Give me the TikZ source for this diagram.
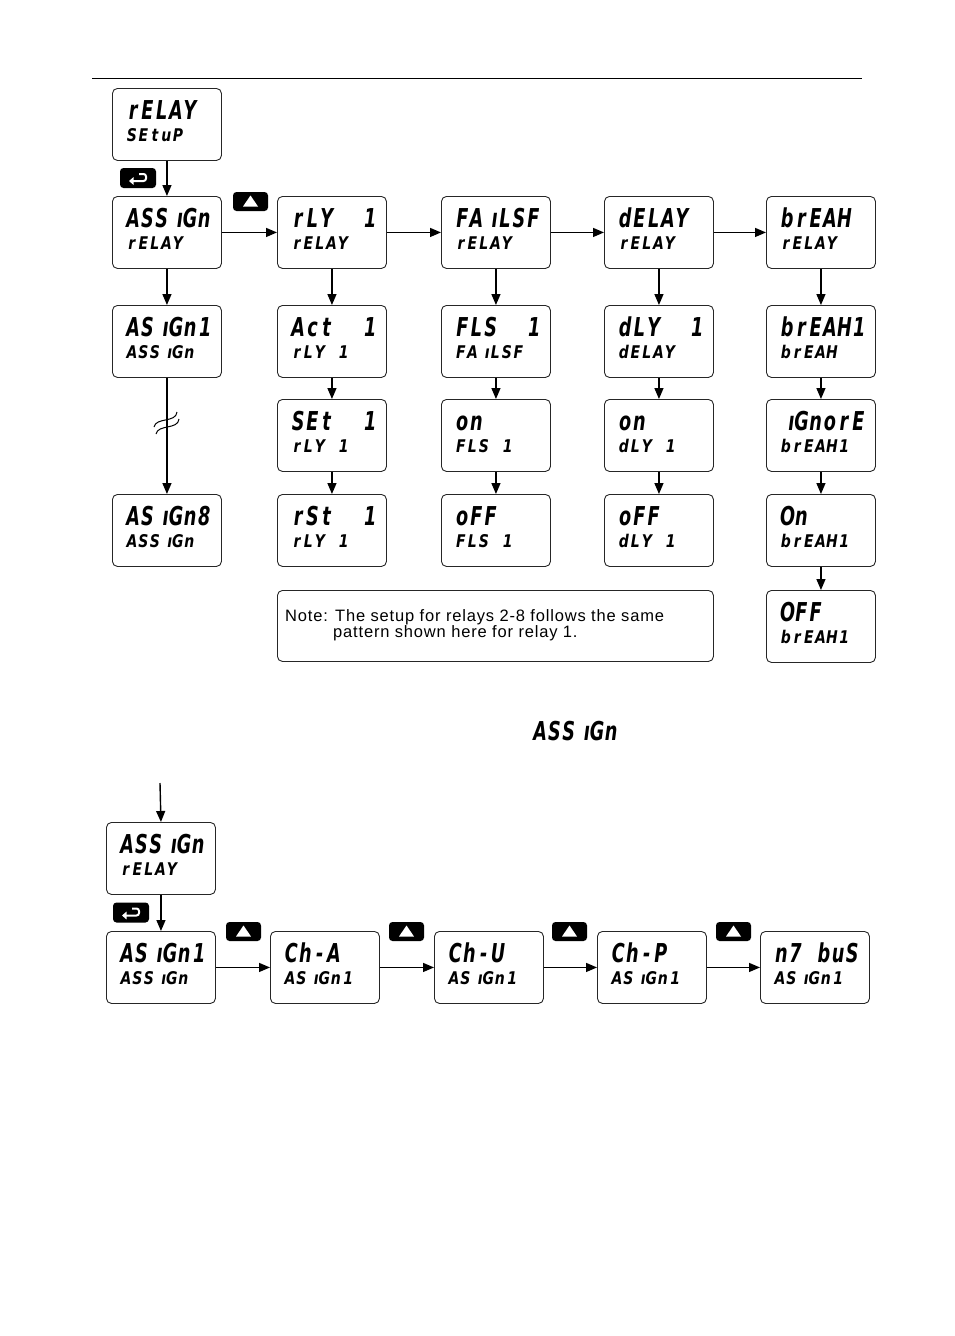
\documentclass[tikz,border=0pt]{standalone}
\usepackage{fontspec}
\setmainfont{Liberation Sans}
\newfontfamily\lcdfont{DejaVu Sans}[FakeStretch=0.68]
\newfontfamily\lcdfontb{DejaVu Sans}[FakeStretch=0.8]
\newfontfamily\notefont{Liberation Sans}[LetterSpace=5]
\usetikzlibrary{arrows.meta}

\newlength\lcdw
\def\lcdline#1{\lcdloop#1\relax}
\def\lcdloop#1{\ifx#1\relax\else\lcdcell{#1}\expandafter\lcdloop\fi}
\def\lcdcell#1{\ifx*#1\hbox to\lcdw{\hfil}\else\ifx1#1\hbox to\lcdw{\hfil#1}\else\ifx ı#1\hbox to\lcdw{\hfil#1}\else\hbox to\lcdw{\hfil#1\hfil}\fi\fi\fi}
\newcommand\LA[1]{{\lcdfont\bfseries\itshape\fontsize{26}{26}\selectfont\lcdw=14.2pt\lcdline{#1}}}
\newcommand\LB[1]{{\lcdfontb\bfseries\itshape\fontsize{17.5}{17.5}\selectfont\lcdw=11.5pt\lcdline{#1}}}

\tikzset{
  dbox/.style={draw=black!85, line width=0.9pt, rounded corners=5pt, minimum width=109pt, minimum height=72pt, inner sep=0pt, anchor=north west},
  txt/.style={anchor=base west, inner sep=0pt},
  arr/.style={line width=1.4pt, -{Triangle[length=11pt,width=9pt]}},
  keybox/.style={fill=black, rounded corners=3.5pt, minimum width=36pt, minimum height=20pt, inner sep=0pt},
  keysym/.style={draw=white, line width=2pt, rounded corners=2.5pt, -{Triangle[length=4.5pt,width=7.5pt]}},
}

% name, x, y (top-left), line1, line2
\newcommand\disp[5]{%
  \node[dbox] (#1) at (#2,#3) {};
  \node[txt] (#1a) at ([shift={(14,31)}]#1.north west) {\LA{#4}};
  \node[txt] (#1b) at ([shift={(14,53)}]#1.north west) {\LB{#5}};
}
\newcommand\enterkey[3]{%
  \node[keybox] (#1) at (#2,#3) {};
  \draw[keysym] ([shift={(1,-4)}]#1.center) -- ([shift={(8,-4)}]#1.center) -- ([shift={(8,3)}]#1.center) -- ([shift={(-9,3)}]#1.center);
}
\newcommand\upkey[3]{%
  \node[keybox, minimum width=35pt, minimum height=19pt] (#1) at (#2,#3) {};
  \fill[white] ([shift={(-7.5,5)}]#1.center) -- ([shift={(7.5,5)}]#1.center) -- ([shift={(0,-6)}]#1.center) -- cycle;
}

\begin{document}
\begin{tikzpicture}[x=1pt,y=-1pt]
\useasboundingbox (0,0) rectangle (954,1336);
\coordinate (ruleL) at (92,78);
\coordinate (ruleR) at (862,78);
\draw[line width=0.9pt] (ruleL) -- (ruleR);

% ---------- column 1
\disp{S}{112}{88}{rELAY}{SEtuP}
\disp{A}{112}{196}{ASSıGn}{rELAY}
\disp{A1}{112}{305}{ASıGn1}{ASSıGn}
\disp{A8}{112}{494}{ASıGn8}{ASSıGn}
% ---------- column 2
\disp{R}{277}{196}{rLY**1}{rELAY}
\disp{R1}{277}{305}{Act**1}{rLY*1}
\disp{R2}{277}{399}{SEt**1}{rLY*1}
\disp{R3}{277}{494}{rSt**1}{rLY*1}
% ---------- column 3
\disp{F}{441}{196}{FAıLSF}{rELAY}
\disp{F1}{441}{305}{FLS**1}{FAıLSF}
\disp{F2}{441}{399}{on}{FLS*1}
\disp{F3}{441}{494}{oFF}{FLS*1}
% ---------- column 4
\disp{D}{604}{196}{dELAY}{rELAY}
\disp{D1}{604}{305}{dLY**1}{dELAY}
\disp{D2}{604}{399}{on}{dLY*1}
\disp{D3}{604}{494}{oFF}{dLY*1}
% ---------- column 5
\disp{B}{766}{196}{brEAH}{rELAY}
\disp{B1}{766}{305}{brEAH1}{brEAH}
\disp{B2}{766}{399}{ıGnorE}{brEAH1}
\disp{B3}{766}{494}{On}{brEAH1}
\disp{B4}{766}{590}{OFF}{brEAH1}

% keys
\enterkey{e1}{138}{178}
\upkey{u1}{250.5}{201.5}

% arrows
\draw[arr] (S.south) -- (A.north);
\draw[arr] (A.south) -- (A1.north);
\draw[arr] (A1.south) -- (A8.north);
\draw[line width=1pt] (154,427) .. controls (156,417) and (176,423) .. (177,412);
\draw[line width=1pt] (156,434) .. controls (158,424) and (178,430) .. (179,419);
\draw[arr] (A.east) -- (R.west);
\draw[arr] (R.east) -- (F.west);
\draw[arr] (F.east) -- (D.west);
\draw[arr] (D.east) -- (B.west);
\draw[arr] (R.south) -- (R1.north);
\draw[arr] (R1.south) -- (R2.north);
\draw[arr] (R2.south) -- (R3.north);
\draw[arr] (F.south) -- (F1.north);
\draw[arr] (F1.south) -- (F2.north);
\draw[arr] (F2.south) -- (F3.north);
\draw[arr] (D.south) -- (D1.north);
\draw[arr] (D1.south) -- (D2.north);
\draw[arr] (D2.south) -- (D3.north);
\draw[arr] (B.south) -- (B1.north);
\draw[arr] (B1.south) -- (B2.north);
\draw[arr] (B2.south) -- (B3.north);
\draw[arr] (B3.south) -- (B4.north);

% note
\node[dbox, minimum width=436pt, minimum height=71pt] (note) at (277,590) {};
\node[txt] (note1) at ([shift={(8,31)}]note.north west) {\notefont\fontsize{16.5}{16.5}\selectfont Note: The setup for relays 2-8 follows the same};
\node[txt] (note2) at ([shift={(56,47)}]note.north west) {\notefont\fontsize{16.5}{16.5}\selectfont pattern shown here for relay 1.};

% middle label
\node[txt] (mid) at (533,740) {\LA{ASSıGn}};

% ---------- bottom section
\coordinate (in) at (160,783);
\disp{G}{106}{822}{ASSıGn}{rELAY}
\disp{G1}{106}{931}{ASıGn1}{ASSıGn}
\disp{G2}{270}{931}{Ch-A}{ASıGn1}
\disp{G3}{434}{931}{Ch-U}{ASıGn1}
\disp{G4}{597}{931}{Ch-P}{ASıGn1}
\disp{G5}{760}{931}{n7*buS}{ASıGn1}
\enterkey{e2}{131}{912.5}
\upkey{u2}{243.5}{931.5}
\upkey{u3}{406.5}{931.5}
\upkey{u4}{569.5}{931.5}
\upkey{u5}{733.5}{931.5}
\draw[arr] (in) -- (G.north);
\draw[arr] (G.south) -- (G1.north);
\draw[arr] (G1.east) -- (G2.west);
\draw[arr] (G2.east) -- (G3.west);
\draw[arr] (G3.east) -- (G4.west);
\draw[arr] (G4.east) -- (G5.west);
\end{tikzpicture}
\end{document}
